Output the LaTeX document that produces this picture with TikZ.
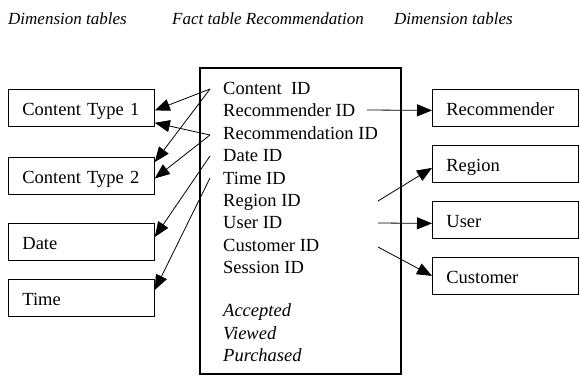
\documentclass[tikz,border=0pt]{standalone}
\usepackage{fontspec}
\setmainfont{Liberation Serif}
\usetikzlibrary{arrows.meta}

\begin{document}
\begin{tikzpicture}[x=1pt,y=1pt,yscale=-1,xscale=1,
	font=\fontsize{18.5}{22}\selectfont,
	dimbox/.style={draw,line width=0.8pt,anchor=north west,minimum width=146pt,minimum height=37pt,text width=118pt,text height=17pt,text depth=2pt,inner xsep=14pt,inner ysep=0pt,align=left},
	row/.style={anchor=base west,inner sep=0pt},
	head/.style={anchor=west,inner sep=0pt,font=\fontsize{17}{20}\selectfont\itshape},
	link/.style={line width=0.8pt,-{Triangle[length=15pt,width=12pt]}}]
	\useasboundingbox (0,0) rectangle (580,375);
	
	% Headers
	\node[head] (hleft) at (8,19) {Dimension tables};
	\node[head] (hfact) at (172,19) {Fact table Recommendation};
	\node[head] (hright) at (394,19) {Dimension tables};
	
	% Fact table
	\node[draw,line width=2pt,anchor=north west,minimum width=201pt,minimum height=306pt,inner sep=0pt] (fact) at (199,67) {};
	\node[row] (cid) at (223,94) {Content\ \ ID};
	\node[row] (rid) at (223,116) {Recommender ID};
	\node[row] (recid) at (223,139) {Recommendation ID};
	\node[row] (did) at (223,161) {Date ID};
	\node[row] (tid) at (223,184) {Time ID};
	\node[row] (regid) at (223,206) {Region ID};
	\node[row] (uid) at (223,228) {User ID};
	\node[row] (custid) at (223,251) {Customer ID};
	\node[row] (sid) at (223,273) {Session ID};
	\node[row] (acc) at (223,316) {\itshape Accepted};
	\node[row] (view) at (223,339) {\itshape Viewed};
	\node[row] (purch) at (223,361) {\itshape Purchased};
	
	% Dimension tables, left
	\node[dimbox] (ct1) at (8,89) {Content Type 1};
	\node[dimbox] (ct2) at (8,157) {Content Type 2};
	\node[dimbox] (date) at (8,223) {Date};
	\node[dimbox] (time) at (8,279) {Time};
	
	% Dimension tables, right
	\node[dimbox] (recr) at (432,89) {Recommender};
	\node[dimbox] (region) at (432,145) {Region};
	\node[dimbox] (user) at (432,201) {User};
	\node[dimbox] (cust) at (432,257) {Customer};
	
	% Link ends inside the fact table
	\coordinate (cidL) at (210,89);
	\coordinate (recidL) at (210,135);
	\coordinate (didL) at (210,156);
	\coordinate (tidL) at (210,178);
	\coordinate (ridR) at (367,110);
	\coordinate (regidR) at (378,201);
	\coordinate (uidR) at (378,223);
	\coordinate (custidR) at (378,247);
	
	% Links, left
	\draw[link] (cidL) -- ([yshift=2.5pt]ct1.east);
	\draw[link] (cidL) -- ([yshift=5pt]ct2.north east);
	\draw[link] (recidL) -- ([yshift=-4pt]ct1.south east);
	\draw[link] (recidL) -- ([yshift=2.5pt]ct2.east);
	\draw[link] (didL) -- ([yshift=-5pt]date.east);
	\draw[link] (tidL) -- ([yshift=-8pt]time.east);
	
	% Links, right
	\draw[link] (ridR) -- ([yshift=2.5pt]recr.west);
	\draw[link] (regidR) -- ([yshift=4pt]region.west);
	\draw[link] (uidR) -- ([yshift=3.5pt]user.west);
	\draw[link] (custidR) -- (cust.west);
\end{tikzpicture}
\end{document}
